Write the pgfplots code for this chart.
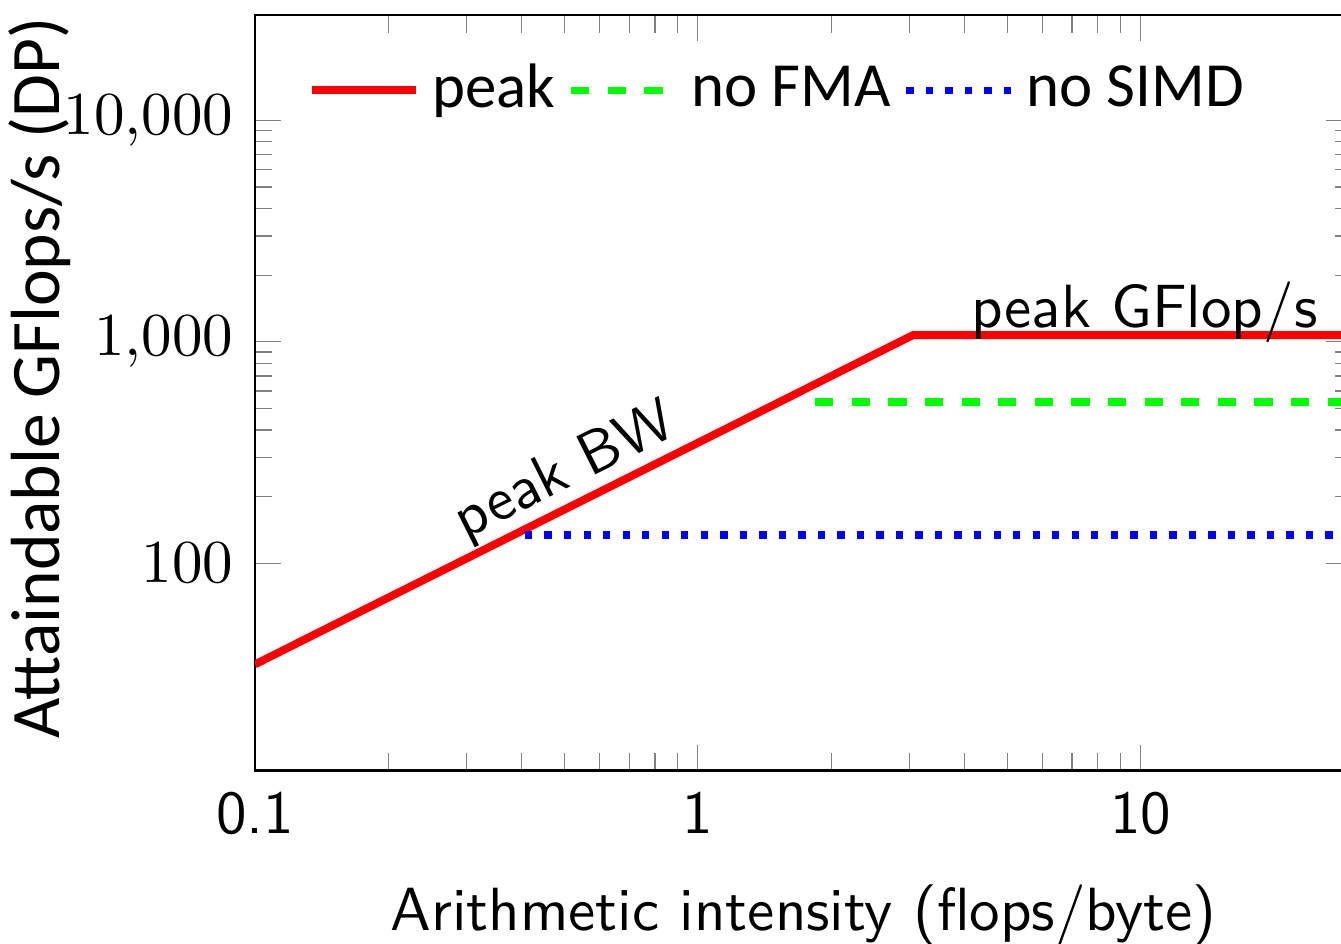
\documentclass[border=0pt]{standalone}
\usepackage{fontspec}
\usepackage{pgfplots}
\pgfplotsset{compat=1.18}
\newfontfamily\carlito{Carlito}

\begin{document}
\begin{tikzpicture}
\begin{axis}[
    xmode=log, ymode=log,
    scale only axis,
    width=179.8pt, height=123.8pt,
    xmin=0.1, xmax=30,
    ymin=11.6, ymax=29800,
    xtick={0.1,1,10},
    xticklabels={0.1,1,10},
    xticklabel style={font=\sffamily},
    ytick={100,1000,10000},
    log ticks with fixed point,
    xlabel={Arithmetic intensity (flops/byte)},
    ylabel={Attaindable GFlops/s (DP)},
    every axis x label/.style={at={(axis description cs:0.5,0)}, anchor=base,
        yshift=-26.2pt, font=\sffamily},
    every axis y label/.style={at={(axis description cs:-0.178,0.52)}, rotate=90,
        anchor=base, font=\carlito\fontsize{11.4}{13}\selectfont},
    legend style={
        at={(axis description cs:0,1)}, anchor=north west,
        xshift=5.5pt, yshift=-3.8pt,
        draw=none, fill=none,
        font=\carlito\fontsize{10.3}{12}\selectfont,
    },
    legend columns=-1,
]
\addplot[red, line width=1.3pt] coordinates {(0.1,35) (3.06,1071) (30,1071)};
\addlegendentry{peak}
\addplot[green, dashed, line width=1.2pt] coordinates {(1.84,535) (30,535)};
\addlegendentry{no FMA}
\addplot[blue, dotted, line width=1.2pt] coordinates {(0.407,134) (30,134)};
\addlegendentry{no SIMD}

\node[font=\sffamily, rotate=26.57, anchor=base] at (axis cs:0.52,222) {peak BW};
\node[font=\sffamily, anchor=base, yshift=1.3pt] at (axis cs:10.2,1071) {peak GFlop/s};
\end{axis}
\pgfresetboundingbox
\path[use as bounding box] ([shift={(-41.8pt,-28.4pt)}]current axis.south west)
    rectangle ([shift={(178.0pt,126.3pt)}]current axis.south west);
\end{tikzpicture}
\end{document}
